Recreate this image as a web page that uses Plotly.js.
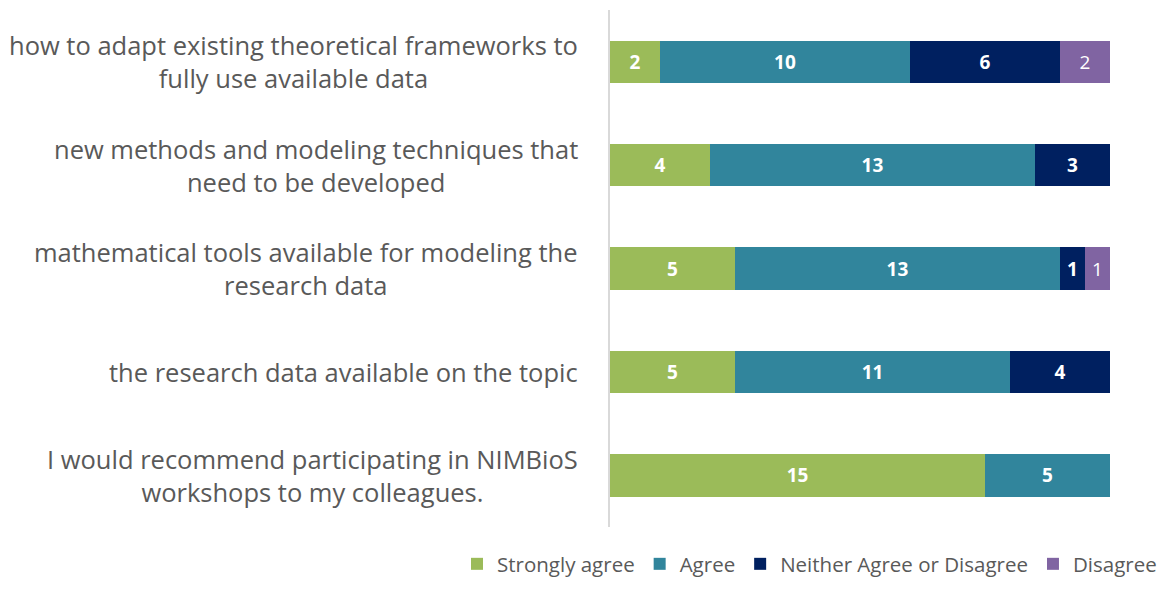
<!DOCTYPE html>
<html>
<head>
<meta charset="utf-8">
<script src="https://cdn.plot.ly/plotly-3.0.1.min.js"></script>
<style>html,body{margin:0;padding:0;background:#fff;}#chart{width:1162px;height:593px;}</style>
</head>
<body>
<div id="chart"></div>
<script>
const categories = [
  "how to adapt existing theoretical frameworks to<br>fully use available data",
  "new methods and modeling techniques that<br>need to be developed",
  "mathematical tools available for modeling the<br>research data",
  "the research data available on the topic",
  "I would recommend participating in NIMBioS<br>workshops to my colleagues."
];
const seriesNames = ["Strongly agree", "Agree", "Neither Agree or Disagree", "Disagree"];
const stronglyAgree = [2, 4, 5, 5, 15];
const agree = [10, 13, 13, 11, 5];
const neither = [6, 3, 1, 4, null];
const disagree = [2, null, 1, null, null];

const colors = ["#9BBB59", "#31859C", "#002060", "#8064A2"];
const values = [stronglyAgree, agree, neither, disagree];
const bold = [true, true, true, false];
const FONT = "'Open Sans', 'Noto Sans', sans-serif";

const traces = values.map((v, i) => ({
  type: "bar",
  orientation: "h",
  name: seriesNames[i],
  y: categories,
  x: v,
  marker: {color: colors[i], line: {width: 0}},
  width: 0.41,
  text: v.map(d => d == null ? "" : String(d)),
  texttemplate: bold[i] ? "<b>%{text}</b>" : "%{text}",
  textposition: "inside",
  insidetextanchor: "middle",
  textangle: 0,
  constraintext: "none",
  textfont: {family: FONT, size: 19, color: "#ffffff"},
  hoverinfo: "none"
}));

const annotations = categories.map(c => ({
  xref: "paper", yref: "y",
  x: -0.06, y: c,
  xanchor: "right", yanchor: "middle",
  align: "center",
  text: c,
  showarrow: false,
  font: {family: FONT, size: 25.5, color: "#595959"}
}));

const layout = {
  width: 1162, height: 593,
  margin: {l: 610, r: 52, t: 10, b: 49},
  paper_bgcolor: "#ffffff",
  plot_bgcolor: "#ffffff",
  barmode: "stack",
  showlegend: true,
  legend: {
    orientation: "h",
    x: -0.304, xanchor: "left",
    y: 0, yanchor: "top",
    traceorder: "normal",
    font: {family: FONT, size: 20.5, color: "#595959"},
    itemwidth: 30,
    itemclick: false
  },
  xaxis: {
    range: [0, 20],
    showgrid: false, zeroline: false, showticklabels: false, showline: false, ticks: ""
  },
  yaxis: {
    type: "category",
    categoryorder: "array",
    categoryarray: categories.slice().reverse(),
    range: [-0.654, 4.5],
    showticklabels: false,
    showgrid: false, zeroline: false, showline: false,
    ticks: ""
  },
  shapes: [{
    type: "line", xref: "paper", yref: "y",
    x0: -0.002, x1: -0.002, y0: -0.5, y1: 4.5,
    line: {color: "#D9D9D9", width: 2},
    layer: "below"
  }],
  annotations: annotations
};

Plotly.newPlot("chart", traces, layout, {displayModeBar: false, staticPlot: true});
</script>
</body>
</html>
